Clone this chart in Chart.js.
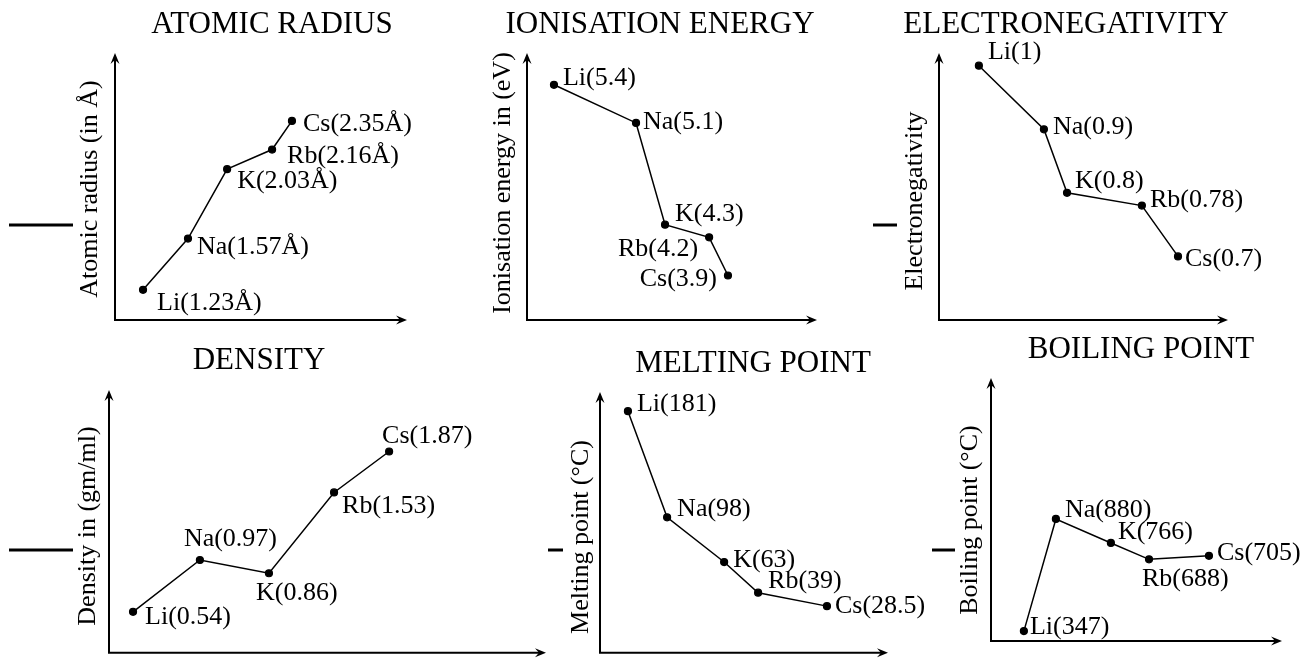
<!DOCTYPE html>
<html>
<head>
<meta charset="utf-8">
<script src="https://cdn.jsdelivr.net/npm/chart.js@4.4.1/dist/chart.umd.min.js"></script>
<style>
  html, body { margin: 0; padding: 0; background: #fff; }
  #board { position: relative; width: 1306px; height: 658px; overflow: hidden; background: #fff; }
  #board canvas { position: absolute; left: 0; top: 0; }
</style>
</head>
<body>
<div id="board"></div>
<script>
// Alkali metals, in group order
const elements = ['Li', 'Na', 'K', 'Rb', 'Cs'];

// Property values (as labelled)
const atomicRadius      = [1.23, 1.57, 2.03, 2.16, 2.35];   // Å
const ionisationEnergy  = [5.4, 5.1, 4.3, 4.2, 3.9];        // eV
const electronegativity = [1, 0.9, 0.8, 0.78, 0.7];
const density           = [0.54, 0.97, 0.86, 1.53, 1.87];   // gm/ml
const meltingPoint      = [181, 98, 63, 39, 28.5];          // °C
const boilingPoint      = [347, 880, 766, 688, 705];        // °C

// Horizontal placement of each element along the (unlabelled) x axis, 0–100
const atomicRadiusX      = [9.6, 25, 38.4, 53.8, 60.6];
const ionisationEnergyX  = [9.3, 37.6, 47.6, 62.8, 69.3];
const electronegativityX = [13.8, 36.3, 44.3, 70.2, 82.7];
const densityX           = [5.5, 20.8, 36.6, 51.5, 64.1];
const meltingPointX      = [9.7, 23.3, 43.1, 54.9, 78.8];
const boilingPointX      = [11.3, 22.3, 41.2, 54.3, 74.9];

// Panel titles and axis titles
const panelTitles = ['ATOMIC RADIUS', 'IONISATION ENERGY', 'ELECTRONEGATIVITY',
                     'DENSITY', 'MELTING POINT', 'BOILING POINT'];
const axisTitles  = ['Atomic radius (in Å)', 'Ionisation energy in (eV)', 'Electronegativity',
                     'Density in (gm/ml)', 'Melting point (°C)', 'Boiling point (°C)'];

const SERIF = '"Liberation Serif", "Times New Roman", "DejaVu Serif", serif';

// Layout of each panel: plot frame (axis origin / arrow tips), value range,
// title and axis-title anchors, and where each point label sits.
const layouts = [
  { frame: [115, 53, 407, 320], yRange: [1.03, 2.8], titleAt: [272, 33], axisTitleAt: [90, 189],
    tags: [[14, 20, 'left'], [9, 15, 'left'], [10, 19, 'left'], [15, 13, 'left'], [11, 10, 'left']] },
  { frame: [527, 53, 817, 320], yRange: [3.55, 5.65], titleAt: [660, 33], axisTitleAt: [503, 183],
    tags: [[9, 0, 'left'], [7, 6, 'left'], [10, -4, 'left'], [-11, 19, 'right'], [-11, 10, 'right']] },
  { frame: [939, 53, 1228, 320], yRange: [0.6, 1.02], titleAt: [1066, 33], axisTitleAt: [915, 201],
    tags: [[9, -7, 'left'], [9, 5, 'left'], [8, -5, 'left'], [8, 1, 'left'], [7, 10, 'left']] },
  { frame: [109, 390, 546, 655], yRange: [0.2, 2.38], titleAt: [259, 369], axisTitleAt: [88, 526],
    tags: [[12, 12, 'left'], [-16, -14, 'left'], [-13, 27, 'left'], [8, 21, 'left'], [-7, -8, 'left']] },
  { frame: [600, 392, 888, 655], yRange: [-8, 196], titleAt: [753, 372], axisTitleAt: [581, 537],
    tags: [[9, 0, 'left'], [10, -1, 'left'], [9, 5, 'left'], [10, -5, 'left'], [8, 7, 'left']] },
  { frame: [991, 378, 1282, 641], yRange: [300, 1550], titleAt: [1141, 358], axisTitleAt: [970, 520],
    tags: [[6, 3, 'left'], [9, -2, 'left'], [7, -4, 'left'], [-7, 27, 'left'], [8, 4, 'left']] }
];

// Short rule marks sitting beside some of the axis titles
const sideRules = [[9, 73, 225], [873, 897, 225], [9, 73, 550], [548, 563, 550], [932, 955, 550]];

const seriesValues = [atomicRadius, ionisationEnergy, electronegativity, density, meltingPoint, boilingPoint];
const seriesX      = [atomicRadiusX, ionisationEnergyX, electronegativityX, densityX, meltingPointX, boilingPointX];

function formatValue(k, v) {
  return k === 0 ? v.toFixed(2) + 'Å' : String(v);
}

function arrowHead(ctx, x, y, angle) {
  ctx.save();
  ctx.translate(x, y);
  ctx.rotate(angle);
  ctx.beginPath();
  ctx.moveTo(0, 0);
  ctx.lineTo(-11, -4.5);
  ctx.lineTo(-7, 0);
  ctx.lineTo(-11, 4.5);
  ctx.closePath();
  ctx.fill();
  ctx.restore();
}

const sketchPlugin = {
  id: 'sketch',
  afterDraw(chart, args, opts) {
    const ctx = chart.ctx;
    const a = chart.chartArea;
    ctx.save();
    ctx.strokeStyle = '#000';
    ctx.fillStyle = '#000';

    // Axes with arrow tips
    ctx.lineWidth = 2;
    ctx.beginPath();
    ctx.moveTo(a.left, a.top + 6);
    ctx.lineTo(a.left, a.bottom);
    ctx.lineTo(a.right - 6, a.bottom);
    ctx.stroke();
    arrowHead(ctx, a.left, a.top, -Math.PI / 2);
    arrowHead(ctx, a.right, a.bottom, 0);

    // Panel title
    ctx.font = '31px ' + SERIF;
    ctx.textAlign = 'center';
    ctx.textBaseline = 'alphabetic';
    ctx.fillText(opts.title, opts.titleAt[0], opts.titleAt[1]);

    // Rotated axis title
    ctx.save();
    ctx.translate(opts.axisTitleAt[0], opts.axisTitleAt[1]);
    ctx.rotate(-Math.PI / 2);
    ctx.font = '26px ' + SERIF;
    ctx.textAlign = 'center';
    ctx.textBaseline = 'middle';
    ctx.fillText(opts.axisTitle, 0, 0);
    ctx.restore();

    // Point labels: Element(value)
    ctx.font = '26px ' + SERIF;
    ctx.textBaseline = 'alphabetic';
    const pts = chart.getDatasetMeta(0).data;
    pts.forEach((pt, i) => {
      const [dx, dy, align] = opts.tags[i];
      ctx.textAlign = align;
      ctx.fillText(opts.labels[i], pt.x + dx, pt.y + dy);
    });

    // Side rule marks
    if (opts.rules) {
      ctx.lineWidth = 3;
      opts.rules.forEach(([x1, x2, y]) => {
        ctx.beginPath();
        ctx.moveTo(x1, y);
        ctx.lineTo(x2, y);
        ctx.stroke();
      });
    }
    ctx.restore();
  }
};

const board = document.getElementById('board');

layouts.forEach((lay, k) => {
  const canvas = document.createElement('canvas');
  canvas.width = 1306;
  canvas.height = 658;
  board.appendChild(canvas);

  const values = seriesValues[k];
  const xs = seriesX[k];
  const [l, t, r, b] = lay.frame;
  const labels = elements.map((el, i) => `${el}(${formatValue(k, values[i])})`);

  new Chart(canvas, {
    type: 'scatter',
    data: {
      datasets: [{
        data: xs.map((x, i) => ({ x: x, y: values[i] })),
        showLine: true,
        borderColor: '#000',
        backgroundColor: '#000',
        borderWidth: 1.5,
        pointRadius: 3.5,
        pointBorderWidth: 1.2,
        pointBorderColor: '#000',
        pointBackgroundColor: '#000',
        tension: 0,
        clip: false
      }]
    },
    options: {
      responsive: false,
      animation: false,
      events: [],
      devicePixelRatio: 1,
      layout: { padding: { left: l, top: t, right: 1306 - r, bottom: 658 - b } },
      scales: {
        x: { type: 'linear', min: 0, max: 100, display: false },
        y: { type: 'linear', min: lay.yRange[0], max: lay.yRange[1], display: false }
      },
      plugins: {
        legend: { display: false },
        tooltip: { enabled: false },
        title: { display: false },
        sketch: {
          title: panelTitles[k],
          titleAt: lay.titleAt,
          axisTitle: axisTitles[k],
          axisTitleAt: lay.axisTitleAt,
          labels: labels,
          tags: lay.tags,
          rules: k === layouts.length - 1 ? sideRules : null
        }
      }
    },
    plugins: [sketchPlugin]
  });
});
</script>
</body>
</html>
